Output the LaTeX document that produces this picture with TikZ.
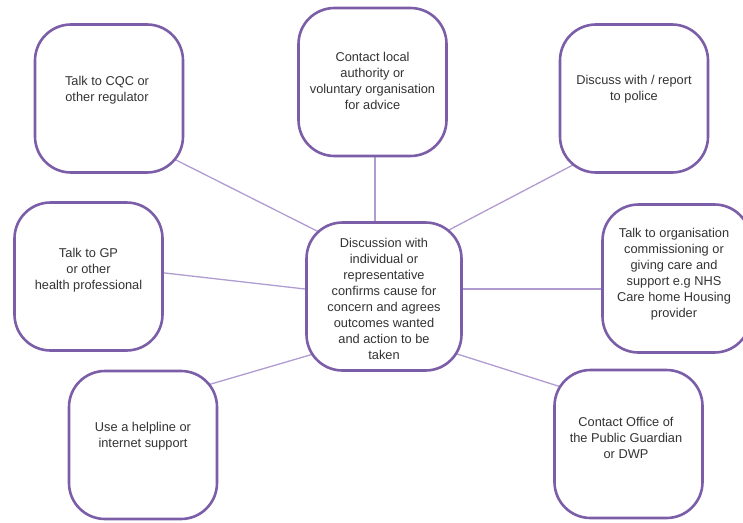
\documentclass[tikz,border=0pt]{standalone}
\usepackage{fontspec}
\setmainfont{Liberation Sans}
\usetikzlibrary{calc,backgrounds}
\definecolor{boxc}{HTML}{7B5EA7}
\definecolor{linkc}{HTML}{B09CD0}
\definecolor{txt}{HTML}{333333}
\begin{document}
\begin{tikzpicture}[x=1pt,y=-1pt,
  box/.style={draw=boxc, line width=2.6pt, fill=white, rounded corners=36pt,
    minimum width=148pt, minimum height=148pt, inner sep=0pt},
  lbl/.style={text=txt, align=center, font=\fontsize{12.8}{16}\selectfont, inner sep=0pt},
  link/.style={draw=linkc, line width=1.3pt, shorten <=-5pt, shorten >=-5pt}]
\useasboundingbox (0,0) rectangle (743,522);
\clip (0,0) rectangle (743,522);
\node[box] (tl) at (109,98.5) {};
\node[box] (tc) at (372.5,82) {};
\node[box] (tr) at (634,98.5) {};
\node[box] (ml) at (88.5,276.5) {};
\node[box, minimum width=155pt] (c) at (384,296.5) {};
\node[box] (mr) at (676.5,278.5) {};
\node[box] (bl) at (143,445) {};
\node[box] (br) at (628.5,444) {};

\node[lbl] (tlt) at (107,90) {Talk to CQC or\\other regulator};
\node[lbl] (tct) at (372.5,81) {Contact local\\authority or\\voluntary organisation\\for advice};
\node[lbl] (trt) at (634,89) {Discuss with / report\\to police};
\node[lbl] (mlt) at (88.5,270) {Talk to GP\\or other\\health professional};
\node[lbl] (ct) at (384,299) {Discussion with\\individual or\\representative\\confirms cause for\\concern and agrees\\outcomes wanted\\and action to be\\taken};
\node[lbl] (mrt) at (674,274.5) {Talk to organisation\\commissioning or\\giving care and\\support e.g NHS\\Care home Housing\\provider};
\node[lbl] (blt) at (143,436) {Use a helpline or\\internet support};
\node[lbl] (brt) at (626,438) {Contact Office of\\the Public Guardian\\or DWP};

\begin{scope}[on background layer]
\draw[link] ($(tl.center)+(69,62.5)$) -- ($(c.center)+(-69,-66.5)$);
\draw[link] ($(tc.center)+(2.5,75)$) -- ($(c.center)+(-9,-75.5)$);
\draw[link] ($(tr.center)+(-63,67.5)$) -- ($(c.center)+(63,-65.5)$);
\draw[link] ($(ml.center)+(76.5,-3.5)$) -- ($(c.center)+(-79,-7.5)$);
\draw[link] ($(mr.center)+(-75.5,10.5)$) -- ($(c.center)+(79,-7.5)$);
\draw[link] ($(bl.center)+(68,-61)$) -- ($(c.center)+(-74,58.5)$);
\draw[link] ($(br.center)+(-70.5,-58)$) -- ($(c.center)+(70,56.5)$);
\end{scope}
\end{tikzpicture}
\end{document}
